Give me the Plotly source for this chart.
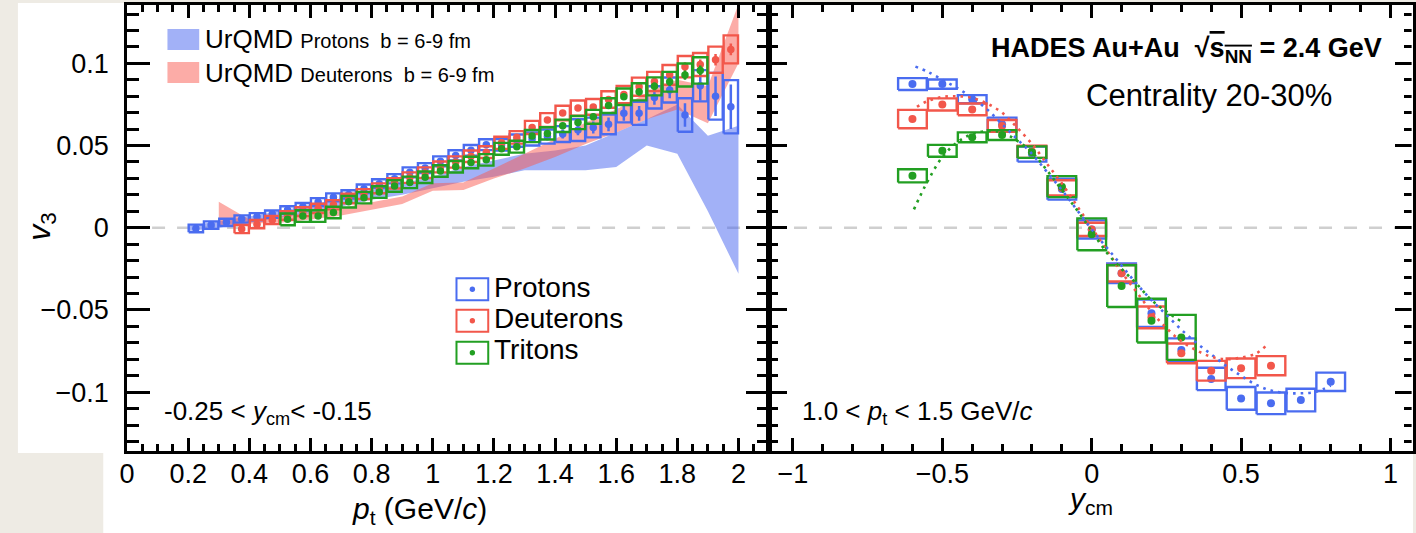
import plotly.graph_objects as go

W, H = 1416, 533

# ---------------- left panel: v3 vs pt  (-0.25 < y_cm < -0.15) ----------------
pt_p = [0.225, 0.275, 0.325, 0.375, 0.425, 0.475, 0.525, 0.575, 0.625, 0.675,
        0.725, 0.775, 0.825, 0.875, 0.925, 0.975, 1.025, 1.075, 1.125, 1.175,
        1.225, 1.275, 1.325, 1.375, 1.425, 1.475, 1.525, 1.575, 1.625, 1.675,
        1.725, 1.775, 1.825, 1.875, 1.925, 1.975]
v3_p = [-0.0004, 0.0016, 0.0033, 0.0053, 0.0067, 0.0083, 0.0108, 0.0128, 0.0156, 0.0185,
        0.0203, 0.0237, 0.0268, 0.0298, 0.0337, 0.0363, 0.0404, 0.0440, 0.0471, 0.0505,
        0.0505, 0.0530, 0.0540, 0.0555, 0.0570, 0.0594, 0.0610, 0.0629, 0.0696, 0.0696,
        0.0793, 0.0838, 0.0686, 0.0864, 0.0800, 0.0736]
stat_p = [0.0008, 0.0008, 0.0008, 0.0008, 0.0008, 0.0008, 0.0008, 0.0008, 0.0008, 0.0008,
          0.0009, 0.0009, 0.0009, 0.0010, 0.0010, 0.0010, 0.0011, 0.0012, 0.0013, 0.0014,
          0.0015, 0.0017, 0.0020, 0.0023, 0.0027, 0.0032, 0.0036, 0.0042, 0.0045, 0.0045,
          0.0045, 0.0050, 0.0072, 0.0090, 0.0120, 0.0135]
sys_p = [0.0023, 0.0023, 0.0022, 0.0022, 0.0022, 0.0022, 0.0023, 0.0023, 0.0024, 0.0024,
         0.0025, 0.0026, 0.0027, 0.0028, 0.0030, 0.0030, 0.0030, 0.0031, 0.0032, 0.0033,
         0.0035, 0.0037, 0.0040, 0.0043, 0.0048, 0.0066, 0.0060, 0.0060, 0.0055, 0.0070,
         0.0068, 0.0076, 0.0102, 0.0095, 0.0142, 0.0162]

pt_d = [0.375, 0.425, 0.475, 0.525, 0.575, 0.625, 0.675, 0.725, 0.775, 0.825,
        0.875, 0.925, 0.975, 1.025, 1.075, 1.125, 1.175, 1.225, 1.275, 1.325,
        1.375, 1.425, 1.475, 1.525, 1.575, 1.625, 1.675, 1.725, 1.775, 1.825,
        1.875, 1.925, 1.975]
v3_d = [-0.0008, 0.0022, 0.0047, 0.0075, 0.0098, 0.0118, 0.0140, 0.0178, 0.0205, 0.0240,
        0.0270, 0.0305, 0.0335, 0.0370, 0.0400, 0.0435, 0.0460, 0.0517, 0.0550, 0.0610,
        0.0655, 0.0698, 0.0728, 0.0735, 0.0780, 0.0810, 0.0858, 0.0890, 0.0930, 0.0980,
        0.0993, 0.1022, 0.1085]
stat_d = [0.0008, 0.0008, 0.0008, 0.0008, 0.0008, 0.0008, 0.0008, 0.0008, 0.0008, 0.0009,
          0.0009, 0.0009, 0.0010, 0.0010, 0.0010, 0.0011, 0.0011, 0.0012, 0.0012, 0.0013,
          0.0014, 0.0015, 0.0016, 0.0017, 0.0018, 0.0020, 0.0021, 0.0022, 0.0024, 0.0026,
          0.0030, 0.0035, 0.0036]
sys_d = [0.0025, 0.0025, 0.0025, 0.0026, 0.0027, 0.0028, 0.0028, 0.0029, 0.0030, 0.0030,
         0.0031, 0.0032, 0.0032, 0.0033, 0.0034, 0.0035, 0.0036, 0.0037, 0.0038, 0.0040,
         0.0042, 0.0044, 0.0046, 0.0048, 0.0050, 0.0052, 0.0055, 0.0058, 0.0060, 0.0065,
         0.0070, 0.0080, 0.0085]

pt_t = [0.525, 0.575, 0.625, 0.675, 0.725, 0.775, 0.825, 0.875, 0.925, 0.975,
        1.025, 1.075, 1.125, 1.175, 1.225, 1.275, 1.325, 1.375, 1.425, 1.475,
        1.525, 1.575, 1.625, 1.675, 1.725, 1.775, 1.825, 1.875]
v3_t = [0.0051, 0.0071, 0.0071, 0.0093, 0.0158, 0.0183, 0.0217, 0.0254, 0.0276, 0.0307,
        0.0345, 0.0371, 0.0397, 0.0413, 0.0480, 0.0493, 0.0558, 0.0574, 0.0620, 0.0640,
        0.0675, 0.0743, 0.0797, 0.0827, 0.0860, 0.0888, 0.0929, 0.0957]
stat_t = [0.0008, 0.0008, 0.0008, 0.0008, 0.0008, 0.0008, 0.0008, 0.0009, 0.0009, 0.0009,
          0.0010, 0.0010, 0.0011, 0.0011, 0.0012, 0.0013, 0.0014, 0.0015, 0.0016, 0.0017,
          0.0018, 0.0019, 0.0020, 0.0022, 0.0024, 0.0026, 0.0028, 0.0030]
sys_t = [0.0036, 0.0035, 0.0035, 0.0035, 0.0035, 0.0035, 0.0035, 0.0035, 0.0035, 0.0035,
         0.0035, 0.0035, 0.0035, 0.0035, 0.0036, 0.0036, 0.0037, 0.0037, 0.0038, 0.0040,
         0.0042, 0.0045, 0.0050, 0.0052, 0.0055, 0.0060, 0.0070, 0.0080]

# UrQMD (b = 6-9 fm) bands
urqmd_pt_p = [0.2, 0.3, 0.4, 0.5, 0.6, 0.7, 0.8, 0.9, 1.0, 1.1,
              1.2, 1.3, 1.4, 1.5, 1.6, 1.7, 1.8, 1.9, 2.0]
urqmd_p_lo = [-0.002, 0.000, 0.003, 0.006, 0.009, 0.013, 0.017, 0.020, 0.024, 0.028,
              0.031, 0.035, 0.035, 0.035, 0.037, 0.050, 0.045, 0.010, -0.028]
urqmd_p_hi = [0.001, 0.004, 0.007, 0.010, 0.014, 0.018, 0.023, 0.027, 0.031, 0.037,
              0.041, 0.045, 0.047, 0.050, 0.058, 0.066, 0.075, 0.056, 0.062]

urqmd_pt_d = [0.3, 0.4, 0.5, 0.6, 0.7, 0.8, 0.9, 1.0, 1.1,
              1.2, 1.3, 1.4, 1.5, 1.6, 1.7, 1.8, 1.9, 2.0]
urqmd_d_lo = [0.0016, 0.0025, 0.0030, 0.0050, 0.0075, 0.0110, 0.0145, 0.0225, 0.0230,
              0.0300, 0.0360, 0.0430, 0.0510, 0.0580, 0.0660, 0.0720, 0.0636, 0.1000]
urqmd_d_hi = [0.0158, 0.0050, 0.0070, 0.0095, 0.0120, 0.0155, 0.0190, 0.0270, 0.0275,
              0.0360, 0.0450, 0.0540, 0.0640, 0.0720, 0.0820, 0.0900, 0.0860, 0.1360]

# ---------------- right panel: v3 vs y_cm  (1.0 < pt < 1.5 GeV/c) ----------------
ycm_p = [-0.6, -0.5, -0.4, -0.3, -0.2, -0.1, 0.0, 0.1, 0.2, 0.3, 0.4, 0.5, 0.6, 0.7, 0.8]
vy_p = [0.0874, 0.0874, 0.0782, 0.0630, 0.0448, 0.0235, -0.0010, -0.0277, -0.0520, -0.0744,
        -0.0920, -0.1038, -0.1068, -0.1048, -0.0937]
sy_p = [0.0036, 0.0028, 0.0025, 0.0040, 0.0046, 0.0064, 0.0055, 0.0060, 0.0083, 0.0071,
        0.0068, 0.0069, 0.0066, 0.0069, 0.0056]

ycm_d = [-0.6, -0.5, -0.4, -0.3, -0.2, -0.1, 0.0, 0.1, 0.2, 0.3, 0.4, 0.5, 0.6]
vy_d = [0.0661, 0.0750, 0.0720, 0.0619, 0.0462, 0.0243, -0.0010, -0.0277, -0.0545, -0.0764,
        -0.0870, -0.0855, -0.0839]
sy_d = [0.0056, 0.0037, 0.0036, 0.0036, 0.0037, 0.0046, 0.0040, 0.0050, 0.0066, 0.0060,
        0.0060, 0.0060, 0.0058]

ycm_t = [-0.6, -0.5, -0.4, -0.3, -0.2, -0.1, 0.0, 0.1, 0.2, 0.3]
vy_t = [0.0316, 0.0468, 0.0550, 0.0564, 0.0460, 0.0250, -0.0040, -0.0355, -0.0565, -0.0667]
sy_t = [0.0040, 0.0036, 0.0030, 0.0030, 0.0035, 0.0064, 0.0097, 0.0127, 0.0133, 0.0137]

# polynomial fits (dotted)
fit_y_p = [-0.59, -0.55, -0.5, -0.45, -0.4, -0.35, -0.3, -0.25, -0.2, -0.15, -0.1, -0.05,
           0.0, 0.05, 0.1, 0.15, 0.2, 0.25, 0.3, 0.35, 0.4, 0.45, 0.5, 0.55, 0.6, 0.65,
           0.7, 0.75, 0.8]
fit_v_p = [0.098, 0.095, 0.090, 0.085, 0.079, 0.072, 0.063, 0.054, 0.045, 0.034, 0.023, 0.011,
           -0.001, -0.012, -0.023, -0.034, -0.044, -0.053, -0.062, -0.070, -0.077, -0.084,
           -0.090, -0.0955, -0.099, -0.1005, -0.1007, -0.0998, -0.096]
fit_y_d = [-0.585, -0.55, -0.5, -0.45, -0.4, -0.35, -0.3, -0.25, -0.2, -0.15, -0.1, -0.05,
           0.0, 0.05, 0.1, 0.15, 0.2, 0.25, 0.3, 0.35, 0.4, 0.45, 0.5, 0.55, 0.585]
fit_v_d = [0.0736, 0.077, 0.0795, 0.080, 0.079, 0.0755, 0.070, 0.061, 0.051, 0.039, 0.027,
           0.0135, 0.0, -0.0135, -0.027, -0.039, -0.051, -0.061, -0.069, -0.0745, -0.0785,
           -0.080, -0.079, -0.0765, -0.0715]
fit_y_t = [-0.595, -0.575, -0.55, -0.5, -0.45, -0.4, -0.35, -0.3, -0.25, -0.2, -0.15, -0.1,
           -0.05, 0.0, 0.05, 0.1, 0.15, 0.2, 0.25, 0.3]
fit_v_t = [0.0112, 0.019, 0.028, 0.043, 0.052, 0.057, 0.0588, 0.058, 0.053, 0.046, 0.035,
           0.023, 0.011, -0.002, -0.015, -0.025, -0.034, -0.044, -0.051, -0.057]

# axis ticks
xt_left = [0, 0.2, 0.4, 0.6, 0.8, 1, 1.2, 1.4, 1.6, 1.8, 2]
xt_left_lbl = ["0", "0.2", "0.4", "0.6", "0.8", "1", "1.2", "1.4", "1.6", "1.8", "2"]
xt_right = [-1, -0.5, 0, 0.5, 1]
xt_right_lbl = ["\u22121", "\u22120.5", "0", "0.5", "1"]
yt = [-0.1, -0.05, 0, 0.05, 0.1]
yt_lbl = ["\u22120.1", "\u22120.05", "0", "0.05", "0.1"]

# ---------------- styling ----------------
BLUE = "#4a6cf0"
RED = "#f2574b"
GREEN = "#229f22"
BAND_BLUE = "rgba(70,100,240,0.5)"
BAND_RED = "rgba(250,90,80,0.5)"
FONT = "Liberation Sans, Arial, Helvetica, sans-serif"
BEIGE = "#eeebe4"


def px(x):
    return x / W


def py(y):
    return 1 - y / H


def box_path(xc, yc, hh, hw):
    xs, ys = [], []
    for x, y, h in zip(xc, yc, hh):
        xs += [x - hw, x + hw, x + hw, x - hw, x - hw, None]
        ys += [y - h, y - h, y + h, y + h, y - h, None]
    return xs, ys


fig = go.Figure()

# UrQMD bands
fig.add_trace(go.Scatter(x=urqmd_pt_p + urqmd_pt_p[::-1], y=urqmd_p_hi + urqmd_p_lo[::-1],
                         fill="toself", fillcolor=BAND_BLUE, line=dict(width=0),
                         mode="lines", xaxis="x", yaxis="y", hoverinfo="skip"))
fig.add_trace(go.Scatter(x=urqmd_pt_d + urqmd_pt_d[::-1], y=urqmd_d_hi + urqmd_d_lo[::-1],
                         fill="toself", fillcolor=BAND_RED, line=dict(width=0),
                         mode="lines", xaxis="x", yaxis="y", hoverinfo="skip"))

# left panel data: systematic boxes, then points with statistical errors
for xs_, ys_, st_, sy_, col in [(pt_p, v3_p, stat_p, sys_p, BLUE),
                                (pt_d, v3_d, stat_d, sys_d, RED),
                                (pt_t, v3_t, stat_t, sys_t, GREEN)]:
    bx, by = box_path(xs_, ys_, sy_, 0.0235)
    fig.add_trace(go.Scatter(x=bx, y=by, mode="lines", line=dict(color=col, width=2.4),
                             xaxis="x", yaxis="y", hoverinfo="skip"))
    fig.add_trace(go.Scatter(x=xs_, y=ys_, mode="markers",
                             marker=dict(color=col, size=7.5),
                             error_y=dict(type="data", array=st_, color=col, thickness=2.5, width=0),
                             xaxis="x", yaxis="y"))

# right panel data
for xs_, ys_, sy_, col in [(ycm_p, vy_p, sy_p, BLUE),
                           (ycm_d, vy_d, sy_d, RED),
                           (ycm_t, vy_t, sy_t, GREEN)]:
    bx, by = box_path(xs_, ys_, sy_, 0.048)
    fig.add_trace(go.Scatter(x=bx, y=by, mode="lines", line=dict(color=col, width=2.4),
                             xaxis="x2", yaxis="y2", hoverinfo="skip"))
    fig.add_trace(go.Scatter(x=xs_, y=ys_, mode="markers",
                             marker=dict(color=col, size=8),
                             xaxis="x2", yaxis="y2"))

for fx, fv, col in [(fit_y_p, fit_v_p, BLUE), (fit_y_d, fit_v_d, RED), (fit_y_t, fit_v_t, GREEN)]:
    fig.add_trace(go.Scatter(x=fx, y=fv, mode="lines",
                             line=dict(color=col, width=2.6, dash="2.6px,5px", shape="spline"),
                             xaxis="x2", yaxis="y2", hoverinfo="skip"))

# ---------------- axes ----------------
Y_DOM = [py(450.5), py(5)]
Y_RANGE = [-0.1355, 0.1355]
tickfont = dict(family=FONT, size=27, color="black")
common = dict(showline=True, linecolor="black", linewidth=2.6, mirror="allticks",
              ticks="inside", tickcolor="black", tickwidth=2.5, showgrid=False,
              zeroline=False, tickfont=tickfont, tickmode="array")

fig.update_layout(
    xaxis=dict(domain=[px(120), px(767)], range=[0, 2.1], anchor="y",
               tickvals=xt_left, ticktext=xt_left_lbl, ticklen=13, ticklabelstandoff=-3,
               minor=dict(tickmode="linear", tick0=0, dtick=0.05, ticks="inside",
                          ticklen=7, tickwidth=2.5, tickcolor="black", showgrid=False),
               **common),
    yaxis=dict(domain=Y_DOM, range=Y_RANGE, anchor="x",
               tickvals=yt, ticktext=yt_lbl, ticklen=23, ticklabelstandoff=10,
               minor=dict(tickmode="linear", tick0=0, dtick=0.01, ticks="inside",
                          ticklen=12, tickwidth=2.5, tickcolor="black", showgrid=False),
               **common),
    xaxis2=dict(domain=[px(767), 1.0], range=[-1.08, 1.0754], anchor="y2",
                tickvals=xt_right, ticktext=xt_right_lbl, ticklen=13, ticklabelstandoff=-3,
                minor=dict(tickmode="linear", tick0=0, dtick=0.1, ticks="inside",
                           ticklen=7, tickwidth=2.5, tickcolor="black", showgrid=False),
                **common),
    yaxis2=dict(domain=Y_DOM, range=Y_RANGE, anchor="x2", showticklabels=False,
                tickvals=yt, ticktext=yt_lbl, ticklen=18,
                minor=dict(tickmode="linear", tick0=0, dtick=0.01, ticks="inside",
                           ticklen=9, tickwidth=2.5, tickcolor="black", showgrid=False),
                **common),
)

# ---------------- shapes: page background, zero lines, legends ----------------
shapes = [
    dict(type="rect", xref="paper", yref="paper", x0=px(10), x1=1, y0=py(453), y1=py(3),
         fillcolor="white", line=dict(width=0), layer="below"),
    dict(type="rect", xref="paper", yref="paper", x0=px(96), x1=1, y0=0, y1=py(453),
         fillcolor="white", line=dict(width=0), layer="below"),
    dict(type="line", xref="x domain", yref="y", x0=0, x1=1, y0=0, y1=0, layer="below",
         line=dict(color="#cfcfcf", width=2.5, dash="13px,12px")),
    dict(type="line", xref="x2 domain", yref="y2", x0=0, x1=1, y0=0, y1=0, layer="below",
         line=dict(color="#cfcfcf", width=2.5, dash="13px,12px")),
    # the right frame edge falls on the page border
    dict(type="rect", xref="paper", yref="paper", x0=px(1414.6), x1=1, y0=py(448), y1=py(8),
         fillcolor="white", line=dict(width=0), layer="above"),
    # UrQMD legend swatches
    dict(type="rect", xref="paper", yref="paper", x0=px(160.7), x1=px(192.7), y0=py(50), y1=py(29),
         fillcolor=BAND_BLUE, line=dict(width=0)),
    dict(type="rect", xref="paper", yref="paper", x0=px(160.7), x1=px(192.7), y0=py(83), y1=py(62),
         fillcolor=BAND_RED, line=dict(width=0)),
]
leg_rows = [(289.3, BLUE), (320.8, RED), (352.8, GREEN)]
for yc, col in leg_rows:
    shapes.append(dict(type="rect", xref="paper", yref="paper", x0=px(452), x1=px(484),
                       y0=py(yc + 11), y1=py(yc - 11), line=dict(color=col, width=2)))
    shapes.append(dict(type="circle", xref="paper", yref="paper", x0=px(465.3), x1=px(470.7),
                       y0=py(yc + 2.7), y1=py(yc - 2.7), fillcolor=col, line=dict(width=0)))
fig.update_layout(shapes=shapes)

# ---------------- text ----------------
ann = []


def text(x, y, s, size, xanchor="left", yanchor="middle", angle=0):
    ann.append(dict(x=px(x), y=py(y), xref="paper", yref="paper", text=s, showarrow=False,
                    xanchor=xanchor, yanchor=yanchor, textangle=angle,
                    font=dict(family=FONT, size=size, color="black")))


text(33, 227, "<i>v</i><sub>3</sub>", 32, xanchor="center", angle=-90)
text(345, 510, "<i>p</i><sub>t</sub> (GeV/<i>c</i>)", 30)
text(1066, 500, "<i>y</i><sub>cm</sub>", 30)
text(197, 39, "UrQMD <span style='font-size:20px'>Protons  b = 6-9 fm</span>", 26)
text(197, 73, "UrQMD <span style='font-size:20px'>Deuterons  b = 6-9 fm</span>", 26)
text(488, 287, "Protons", 28)
text(488, 318, "Deuterons", 28)
text(488, 349, "Tritons", 28)
text(155, 412, "-0.25 &lt; <i>y</i><sub>cm</sub>&lt; -0.15", 26)
text(798, 412, "1.0 &lt; <i>p</i><sub>t</sub> &lt; 1.5 GeV/<i>c</i>", 26)
text(1387, 50, "<b>HADES Au+Au  \u221a<span style='text-decoration:overline'>s<sub>NN</sub></span> = 2.4 GeV</b>",
     27, xanchor="right")
text(1084, 95, "Centrality 20-30%", 31)

fig.update_layout(
    annotations=ann,
    width=W, height=H,
    margin=dict(l=0, r=0, t=0, b=0),
    paper_bgcolor=BEIGE,
    plot_bgcolor="rgba(0,0,0,0)",
    showlegend=False,
    font=dict(family=FONT, color="black"),
)

fig.write_html("out.html")
